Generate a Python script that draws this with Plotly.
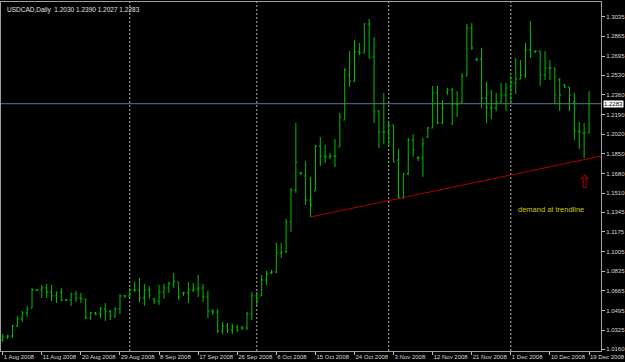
import plotly.graph_objects as go

# ---- data ----
opens = [1.0241,1.0267,1.0276,1.0362,1.0423,1.0475,1.0518,1.0673,1.0673,1.0691,
         1.0656,1.0622,1.0656,1.0587,1.0587,1.0639,1.0604,1.0596,1.0432,1.0475,
         1.0466,1.0509,1.0492,1.0449,1.0509,1.0622,1.0622,1.0673,1.0673,1.0604,
         1.0673,1.0596,1.0578,1.0656,1.0691,1.0717,1.0743,1.0648,1.0648,1.0673,
         1.0682,1.0691,1.0613,1.0492,1.0483,1.0319,1.0362,1.0328,1.0354,1.0345,
         1.0345,1.0466,1.0622,1.0622,1.0760,1.0820,1.0829,1.0993,1.1002,1.1261,
         1.1537,1.1684,1.1658,1.1451,1.1529,1.1918,1.1831,1.1823,1.1831,1.1909,
         1.2142,1.2531,1.2479,1.2730,1.2721,1.2972,1.2687,1.2220,1.2039,1.2039,
         1.2099,1.1797,1.1477,1.1676,1.1969,1.1814,1.1814,1.1995,1.2073,1.2376,
         1.2116,1.2384,1.2401,1.2280,1.2298,1.2522,1.2937,1.2661,1.2669,1.2332,
         1.2246,1.2246,1.2298,1.2358,1.2419,1.2462,1.2496,1.2531,1.2747,1.2730,
         1.2738,1.2531,1.2592,1.2592,1.2488,1.2445,1.2427,1.2298,1.2047,1.2030,
         1.2030]
highs = [1.0293,1.0285,1.0371,1.0449,1.0492,1.0535,1.0691,1.0682,1.0717,1.0725,
         1.0717,1.0656,1.0691,1.0596,1.0648,1.0665,1.0648,1.0596,1.0483,1.0483,
         1.0527,1.0561,1.0501,1.0527,1.0639,1.0630,1.0691,1.0743,1.0777,1.0725,
         1.0708,1.0604,1.0717,1.0725,1.0743,1.0820,1.0743,1.0656,1.0743,1.0734,
         1.0803,1.0725,1.0665,1.0509,1.0509,1.0397,1.0388,1.0380,1.0371,1.0362,
         1.0483,1.0656,1.0656,1.0803,1.0838,1.0846,1.1080,1.1080,1.1287,1.1555,
         1.2116,1.1693,1.1788,1.1650,1.1926,1.1995,1.1926,1.1857,1.1978,1.2203,
         1.2592,1.2738,1.2833,1.2808,1.2980,1.3015,1.2859,1.2229,1.2376,1.2116,
         1.2099,1.1892,1.1684,1.1987,1.2021,1.1831,1.1987,1.2082,1.2436,1.2436,
         1.2315,1.2419,1.2419,1.2393,1.2548,1.2972,1.2980,1.2678,1.2764,1.2471,
         1.2401,1.2376,1.2462,1.2462,1.2522,1.2678,1.2661,1.2808,1.2998,1.2747,
         1.2738,1.2738,1.2661,1.2592,1.2505,1.2453,1.2427,1.2376,1.2125,1.2116,
         1.2390]
lows = [1.0224,1.0250,1.0259,1.0354,1.0397,1.0440,1.0518,1.0665,1.0604,1.0604,
        1.0578,1.0561,1.0578,1.0578,1.0535,1.0570,1.0561,1.0423,1.0414,1.0457,
        1.0432,1.0406,1.0414,1.0432,1.0466,1.0604,1.0613,1.0656,1.0570,1.0535,
        1.0596,1.0552,1.0544,1.0596,1.0648,1.0691,1.0587,1.0622,1.0561,1.0656,
        1.0613,1.0570,1.0432,1.0457,1.0302,1.0293,1.0302,1.0293,1.0311,1.0328,
        1.0328,1.0414,1.0535,1.0622,1.0717,1.0812,1.0820,1.0950,1.0993,1.1175,
        1.1512,1.1667,1.1408,1.1304,1.1529,1.1745,1.1771,1.1805,1.1736,1.1909,
        1.2142,1.2427,1.2471,1.2704,1.2721,1.2678,1.2116,1.1900,1.1935,1.1909,
        1.1779,1.1468,1.1460,1.1667,1.1823,1.1788,1.1650,1.1987,1.2073,1.2108,
        1.2108,1.2358,1.2099,1.2168,1.2289,1.2522,1.2747,1.2652,1.2246,1.2116,
        1.2151,1.2220,1.2289,1.2220,1.2298,1.2367,1.2496,1.2505,1.2678,1.2721,
        1.2436,1.2488,1.2488,1.2280,1.2220,1.2419,1.2220,1.1969,1.1892,1.1814,
        1.2027]
closes = [1.0267,1.0276,1.0362,1.0423,1.0475,1.0509,1.0673,1.0673,1.0691,1.0656,
          1.0622,1.0656,1.0587,1.0587,1.0639,1.0604,1.0596,1.0432,1.0475,1.0466,
          1.0509,1.0492,1.0449,1.0509,1.0622,1.0622,1.0673,1.0673,1.0604,1.0673,
          1.0630,1.0578,1.0656,1.0691,1.0734,1.0743,1.0613,1.0648,1.0673,1.0682,
          1.0691,1.0613,1.0492,1.0483,1.0319,1.0362,1.0328,1.0354,1.0328,1.0345,
          1.0466,1.0622,1.0587,1.0760,1.0812,1.0829,1.0993,1.1002,1.1261,1.1537,
          1.1779,1.1684,1.1451,1.1408,1.1918,1.1831,1.1823,1.1831,1.1831,1.2168,
          1.2574,1.2479,1.2730,1.2721,1.2972,1.2678,1.2220,1.2039,1.2039,1.2099,
          1.1779,1.1477,1.1676,1.1969,1.1883,1.1814,1.1935,1.2073,1.2376,1.2116,
          1.2246,1.2401,1.2280,1.2280,1.2522,1.2937,1.2764,1.2669,1.2332,1.2246,
          1.2246,1.2298,1.2358,1.2419,1.2462,1.2496,1.2531,1.2747,1.2695,1.2738,
          1.2531,1.2592,1.2592,1.2358,1.2358,1.2427,1.2358,1.2047,1.2039,1.2030,
          1.2283]

date_labels = ["1 Aug 2008", "11 Aug 2008", "20 Aug 2008", "29 Aug 2008", "8 Sep 2008",
               "17 Sep 2008", "26 Sep 2008", "6 Oct 2008", "15 Oct 2008", "24 Oct 2008",
               "3 Nov 2008", "12 Nov 2008", "21 Nov 2008", "1 Dec 2008", "10 Dec 2008",
               "19 Dec 2008"]
date_label_bars = [0, 8, 16, 24, 32, 40, 48, 56, 64, 72, 80, 88, 96, 104, 112, 120]
month_start_bars = [26, 52, 79, 104]

price_ticks = [1.3035, 1.2865, 1.2695, 1.2530, 1.2360, 1.2190, 1.2020, 1.1850, 1.1680,
               1.1510, 1.1345, 1.1175, 1.1005, 1.0835, 1.0665, 1.0495, 1.0325, 1.0160]

trend_bars = [63, 119]
trend_prices = [1.1304, 1.1800]

symbol = "USDCAD,Daily"
last_price = 1.2283
note_text = "demand at trendline"
note_bar, note_price = 105, 1.1365
arrow_bar, arrow_price = 119, 1.1615

# ---- figure ----
x = list(range(len(opens)))
fig = go.Figure()
fig.add_trace(go.Ohlc(
    x=x, open=opens, high=highs, low=lows, close=closes,
    increasing=dict(line=dict(color="#00c000", width=1)),
    decreasing=dict(line=dict(color="#00c000", width=1)),
    tickwidth=0.3, showlegend=False, hoverinfo="skip"))

x_end = 122.45
slope = (trend_prices[1] - trend_prices[0]) / (trend_bars[1] - trend_bars[0])
fig.add_trace(go.Scatter(
    x=[trend_bars[0], x_end],
    y=[trend_prices[0], trend_prices[0] + slope * (x_end - trend_bars[0])],
    mode="lines", line=dict(color="#b00000", width=1), showlegend=False, hoverinfo="skip"))

shapes = []
for b in month_start_bars:
    shapes.append(dict(type="line", xref="x", yref="paper", x0=b, x1=b, y0=0, y1=1,
                       line=dict(color="#b0b0b0", width=1, dash="2px,2px"), layer="below"))
shapes.append(dict(type="line", xref="paper", yref="y", x0=0, x1=1, y0=last_price, y1=last_price,
                   line=dict(color="#5f7890", width=1), layer="below"))

ohlc_text = " ".join(f"{v:.4f}" for v in (opens[-1], highs[-1], lows[-1], closes[-1]))
annotations = [
    dict(xref="paper", yref="paper", x=0, y=1, xanchor="left", yanchor="top", xshift=4, yshift=-2,
         text=f"{symbol}  {ohlc_text}", showarrow=False,
         font=dict(family="Liberation Sans", size=6.5, color="#e0e0e0")),
    dict(xref="x", yref="y", x=note_bar, y=note_price, xanchor="left", yanchor="middle",
         text=note_text, showarrow=False,
         font=dict(family="Liberation Sans", size=7.5, color="#c8c800")),
    dict(xref="x", yref="y", x=arrow_bar, y=arrow_price, xanchor="center", yanchor="middle",
         text="⇧", showarrow=False,
         font=dict(family="DejaVu Sans", size=18, color="#b00000")),
    dict(xref="paper", yref="y", x=1, y=last_price, xanchor="left", yanchor="middle", xshift=2,
         text=f"{last_price:.4f}", showarrow=False, bgcolor="#ffffff", borderpad=0,
         font=dict(family="Liberation Sans", size=6, color="#000000")),
]

fig.update_layout(
    width=625, height=362,
    margin=dict(l=1, r=24, t=2, b=11),
    paper_bgcolor="#000000", plot_bgcolor="#000000",
    shapes=shapes, annotations=annotations,
    xaxis=dict(range=[-0.35, x_end], tickvals=date_label_bars, ticktext=date_labels,
               ticks="outside", ticklen=3, tickcolor="#c0c0c0", tickangle=0, automargin=False,
               ticklabelposition="outside right",
               tickfont=dict(family="Liberation Sans", size=6, color="#d8d8d8"),
               showgrid=False, zeroline=False, showline=True, mirror=True,
               linecolor="#a0a0a0", linewidth=1, rangeslider=dict(visible=False)),
    yaxis=dict(range=[1.0146, 1.3162], side="right", tickvals=price_ticks,
               ticktext=[f"{v:.4f}" for v in price_ticks], automargin=False,
               ticks="outside", ticklen=3, tickcolor="#c0c0c0",
               tickfont=dict(family="Liberation Sans", size=6, color="#d8d8d8"),
               showgrid=False, zeroline=False, showline=True, mirror=True,
               linecolor="#a0a0a0", linewidth=1),
)

fig.write_html("out.html")
